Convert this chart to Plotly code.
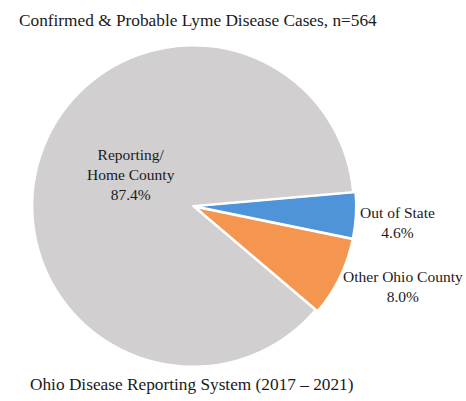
import plotly.graph_objects as go

# Data
labels = ["Out of State", "Other Ohio County", "Reporting/Home County"]
label_text = ["Out of State", "Other Ohio County", "Reporting/<br>Home County"]
values = [26, 45, 493]
colors = ["#4F93D8", "#F4964F", "#D1CFCF"]
title_text = "Confirmed & Probable Lyme Disease Cases, n=564"
source_text = "Ohio Disease Reporting System (2017 \u2013 2021)"

W, H = 466, 401
total = sum(values)
pcts = [v / total * 100 for v in values]

fig = go.Figure(go.Pie(
    labels=labels,
    values=values,
    sort=False,
    direction="clockwise",
    rotation=85,
    marker=dict(colors=colors, line=dict(color="white", width=2)),
    pull=[0.015, 0.015, 0],
    textinfo="none",
    hoverinfo="label+percent",
    showlegend=False,
    domain=dict(x=[30 / W, 356 / W], y=[32 / H, 358 / H]),
))

font = dict(family="Liberation Serif, Times New Roman, serif", size=15.5, color="#1a1a1a")
label_pos = [(397, 222), (403, 286), (131, 174)]
ann = []
for t, p, (px, py) in zip(label_text, pcts, label_pos):
    ann.append(dict(
        x=px / W, y=1 - py / H, xref="paper", yref="paper",
        text=f"{t}<br>{p:.1f}%", showarrow=False,
        xanchor="center", yanchor="middle", align="center", font=font,
    ))
ann.append(dict(x=17 / W, y=1 - 20 / H, xref="paper", yref="paper", text=title_text,
                showarrow=False, xanchor="left", yanchor="middle",
                font=dict(family=font["family"], size=17.3, color="#1a1a1a")))
ann.append(dict(x=28 / W, y=1 - 384 / H, xref="paper", yref="paper", text=source_text,
                showarrow=False, xanchor="left", yanchor="middle",
                font=dict(family=font["family"], size=17.3, color="#1a1a1a")))

fig.update_layout(
    width=W, height=H,
    margin=dict(l=0, r=0, t=0, b=0),
    paper_bgcolor="white", plot_bgcolor="white",
    annotations=ann,
)
fig.write_html("out.html", config={"displayModeBar": False},
               post_script="document.body.style.margin='0';document.body.style.overflow='hidden';")
